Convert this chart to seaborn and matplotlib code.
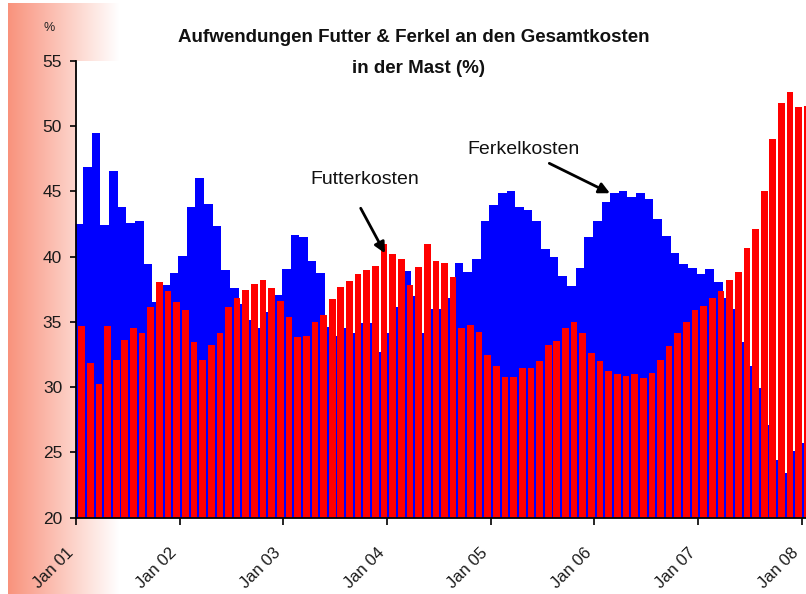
import numpy as np
import pandas as pd
import matplotlib
matplotlib.use("Agg")
import matplotlib.pyplot as plt
import seaborn as sns

# ---- data (monthly, Jan 2001 .. Jan 2008) ----
ferkel = [42.47, 46.84, 49.44, 42.4, 46.53, 43.82, 42.6, 42.73, 39.43, 36.5, 37.85, 38.72,
          40.07, 43.8, 46.02, 44.05, 42.37, 38.95, 37.57, 36.37, 35.15, 34.56, 35.76, 37.06,
          39.05, 41.63, 41.48, 39.66, 38.77, 34.63, 33.92, 34.53, 34.17, 34.9, 34.9, 32.72,
          34.17, 36.12, 38.92, 37.0, 34.17, 36.0, 36.0, 36.85, 39.53, 38.82, 39.79, 42.7,
          43.93, 44.9, 45.05, 43.82, 43.57, 42.73, 40.56, 39.95, 38.54, 37.75, 39.15, 41.48,
          42.73, 44.16, 44.85, 45.0, 44.56, 44.9, 44.41, 42.85, 41.6, 40.28, 39.41, 39.15,
          38.67, 39.05, 38.08, 36.85, 36.0, 33.44, 31.62, 29.9, 27.08, 24.43, 23.4, 25.14,
          25.75]
futter = [34.66, 31.83, 30.24, 34.66, 32.08, 33.59, 34.53, 34.17, 36.12, 38.08, 37.34, 36.5,
          35.89, 33.44, 32.1, 33.21, 34.17, 36.16, 36.85, 37.47, 37.9, 38.18, 37.57, 36.6,
          35.37, 33.87, 33.92, 34.97, 35.5, 36.73, 37.7, 38.11, 38.67, 38.95, 39.3, 40.99,
          40.17, 39.79, 37.85, 39.18, 40.99, 39.66, 39.53, 38.46, 34.51, 34.79, 34.25, 32.44,
          31.6, 30.76, 30.76, 31.49, 31.49, 31.98, 33.21, 33.56, 34.51, 35.02, 34.15, 32.6,
          31.98, 31.24, 30.99, 30.86, 30.99, 30.73, 31.11, 32.08, 33.18, 34.15, 35.0, 35.89,
          36.24, 36.85, 37.34, 38.21, 38.82, 40.63, 42.11, 45.05, 48.98, 51.78, 52.63, 51.43,
          51.5]
year_labels = ["Jan 01", "Jan 02", "Jan 03", "Jan 04", "Jan 05", "Jan 06", "Jan 07", "Jan 08"]
y_ticks = [20, 25, 30, 35, 40, 45, 50, 55]

month = np.arange(len(ferkel))
df = pd.DataFrame({"month": month, "Ferkelkosten": ferkel, "Futterkosten": futter})

FONT = "Liberation Sans"
plt.rcParams["font.family"] = [FONT, "DejaVu Sans"]

W, H = 806, 594
fig = plt.figure(figsize=(W / 100, H / 100), dpi=100)
fig.patch.set_facecolor("white")

# left salmon gradient strip
gax = fig.add_axes([8 / W, 0, (118 - 8) / W, 1 - 3 / H], zorder=0)
grad = np.linspace(0, 1, 256)
c0 = np.array([249, 146, 124]) / 255.0
c1 = np.array([255, 255, 255]) / 255.0
img = c0[None, :] * (1 - grad[:, None]) + c1[None, :] * grad[:, None]
gax.imshow(img[None, :, :], aspect="auto", extent=[0, 1, 0, 1])
gax.set_axis_off()

# main axes
left, right = 76 / W, 806 / W
bottom, top = (H - 517.7) / H, (H - 60.7) / H
ax = fig.add_axes([left, bottom, right - left, top - bottom], zorder=1)
ax.set_facecolor("white")

sns.barplot(x=df["month"] + 0.33, y=df["Ferkelkosten"], native_scale=True, orient="x",
            width=1.0, color="#0000FF", saturation=1, linewidth=0, errorbar=None, ax=ax)
sns.barplot(x=df["month"] + 0.65, y=df["Futterkosten"], native_scale=True, orient="x",
            width=0.77, color="#FF0000", saturation=1, linewidth=0, errorbar=None, ax=ax)

ax.set_ylim(20, 55)
ax.set_xlim(0, 84.49)
ax.set_yticks(y_ticks)
ax.set_yticklabels([str(v) for v in y_ticks])
ax.set_xticks(np.arange(len(year_labels)) * 12)
ax.set_xticklabels(year_labels, rotation=45, ha="right", rotation_mode="default")
ax.set_xlabel("")
ax.set_ylabel("")

for s in ["top", "right"]:
    ax.spines[s].set_visible(False)
for s in ["left", "bottom"]:
    ax.spines[s].set_linewidth(1.3)
    ax.spines[s].set_color("black")
    ax.spines[s].set_zorder(5)

ax.tick_params(axis="y", direction="out", length=4.5, width=1.2, pad=5.5,
               labelsize=12.5, labelcolor="#1a1a1a")
ax.tick_params(axis="x", direction="out", length=5, width=1.2, pad=15,
               labelsize=12, labelcolor="#1a1a1a")
ax.grid(False)

# title
fig.text(414 / W, 1 - 42 / H, "Aufwendungen Futter & Ferkel an den Gesamtkosten",
         ha="center", va="baseline", fontsize=13.5, fontweight="bold", color="#111111")
fig.text(418 / W, 1 - 73 / H, "in der Mast (%)",
         ha="center", va="baseline", fontsize=13.5, fontweight="bold", color="#111111")
fig.text(49 / W, 1 - 31 / H, "%", ha="center", va="baseline", fontsize=9, color="#222222")

# annotations
ax.text(27.16, 45.56, "Futterkosten", ha="left", va="baseline", fontsize=14, color="#111111")
ax.annotate("", xy=(35.76, 40.25), xytext=(32.95, 43.70),
            arrowprops=dict(arrowstyle="-|>", color="black", lw=2, mutation_scale=16,
                            shrinkA=0, shrinkB=0))
ax.text(45.33, 47.86, "Ferkelkosten", ha="left", va="baseline", fontsize=14, color="#111111")
ax.annotate("", xy=(61.8, 44.85), xytext=(54.78, 47.14),
            arrowprops=dict(arrowstyle="-|>", color="black", lw=2, mutation_scale=16,
                            shrinkA=0, shrinkB=0))

fig.savefig("out.png", dpi=100)
